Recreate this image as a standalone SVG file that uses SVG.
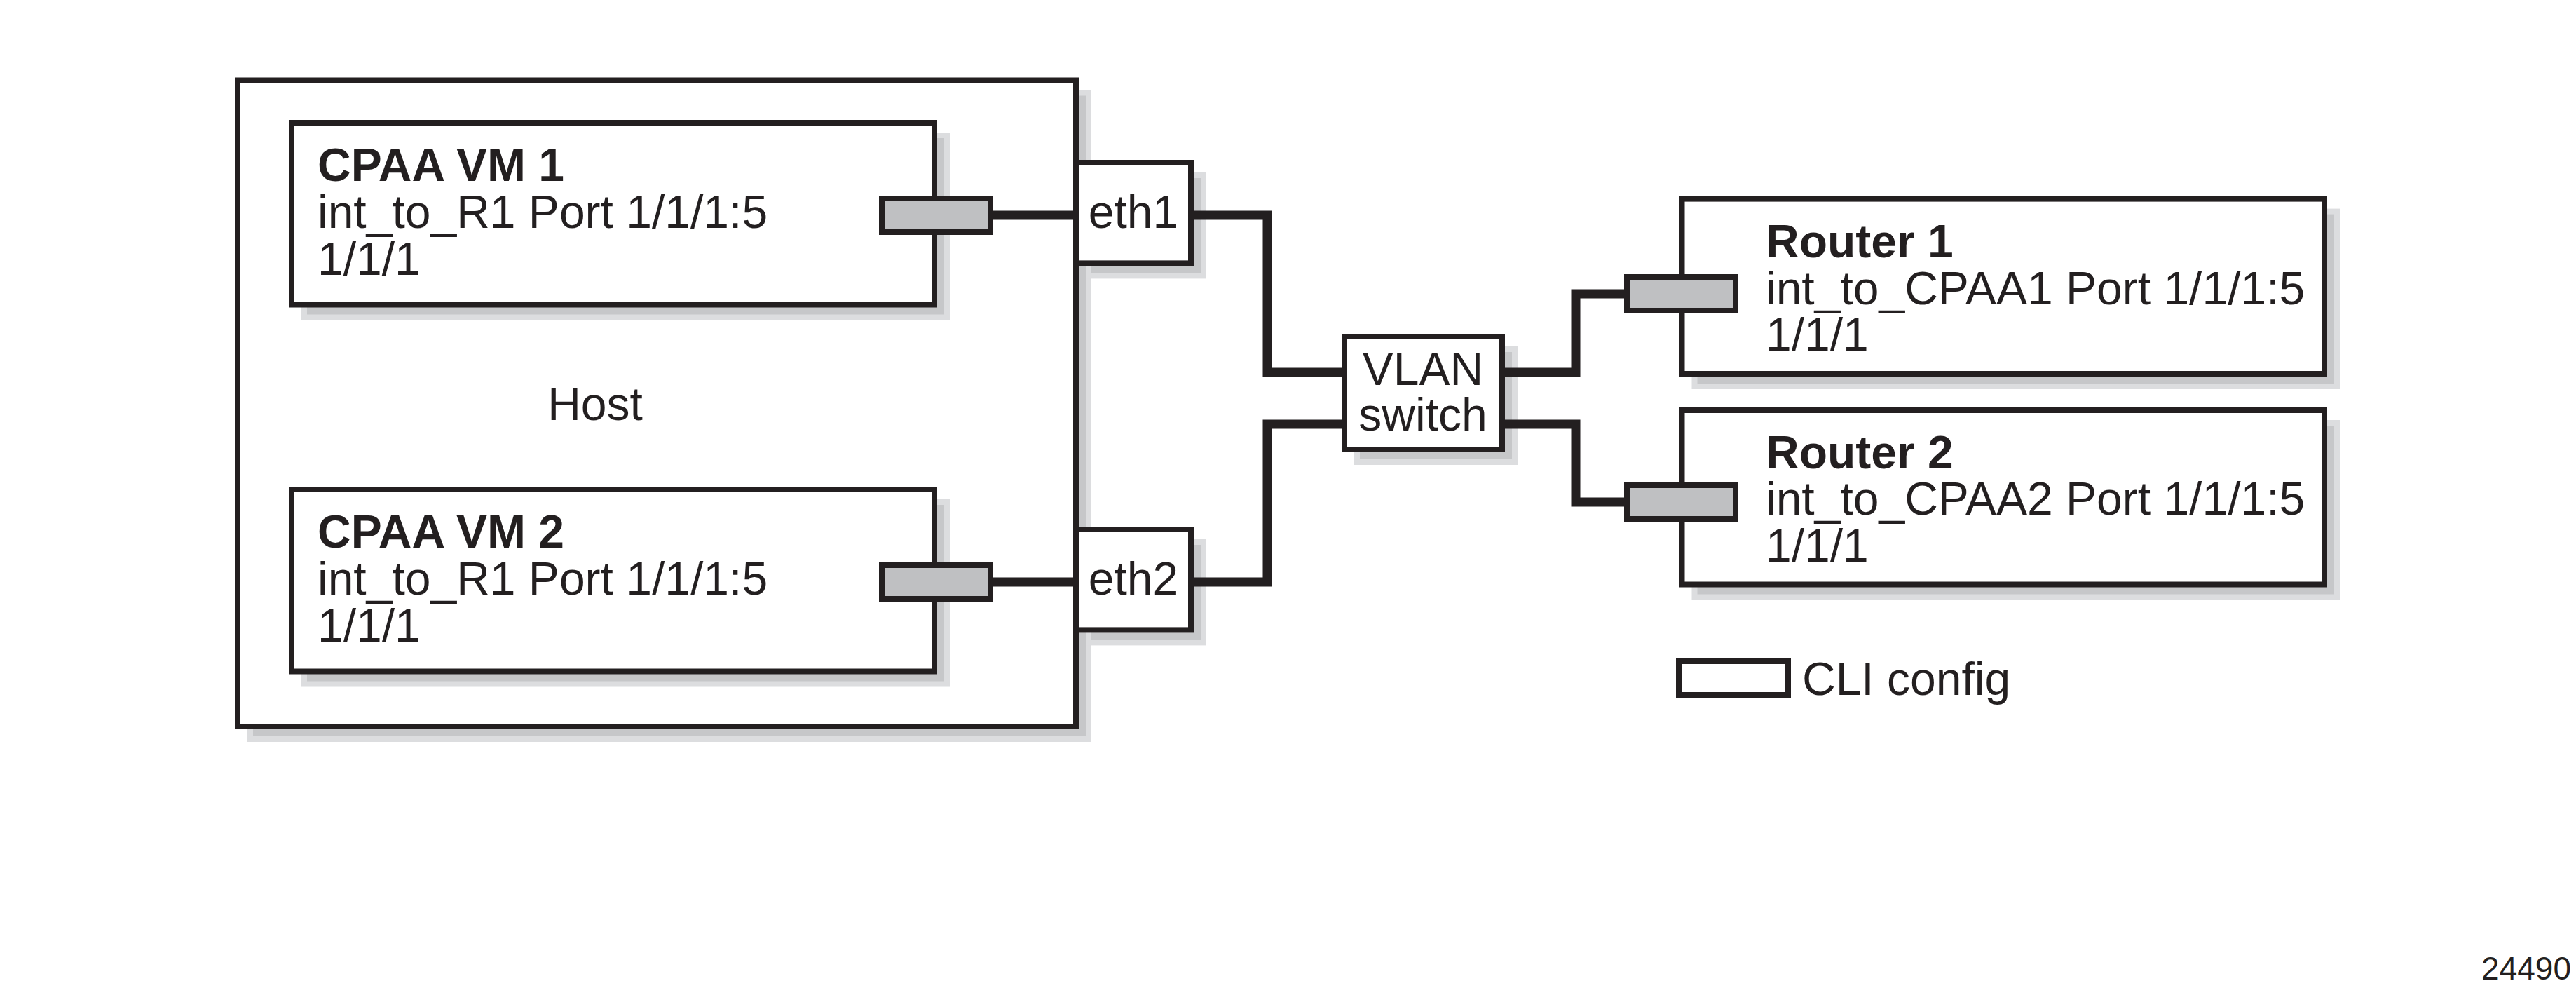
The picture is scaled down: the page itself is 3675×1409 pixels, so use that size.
<svg xmlns="http://www.w3.org/2000/svg" width="3675" height="1409" viewBox="0 0 3675 1409">
<style>
.box{fill:#ffffff;stroke:#231f20;stroke-width:8}
.sh{fill:#c6c7c9;stroke:#dcdddf;stroke-width:8}
.port{fill:#bfc0c2;stroke:#231f20;stroke-width:8}
.con{fill:none;stroke:#231f20;stroke-width:13;stroke-linejoin:miter;stroke-linecap:butt}
text{font-family:"Liberation Sans",Arial,Helvetica,sans-serif;font-size:66px;fill:#231f20}
.b{font-weight:bold}
.c{text-anchor:middle}
</style>
<rect width="3675" height="1409" fill="#ffffff"/>
<g id="host">
<rect class="sh" x="357" y="132.5" width="1196" height="921.5"/>
<rect class="box" x="339" y="114.5" width="1196" height="921.5"/>
<text class="c" x="849" y="599">Host</text>
</g>
<g id="vm1">
<rect class="sh" x="434" y="193" width="917" height="259.5"/>
<rect class="box" x="416" y="175" width="917" height="259.5"/>
<text class="b" x="453" y="258">CPAA VM 1</text>
<text x="453" y="325">int_to_R1 Port 1/1/1:5</text>
<text x="453" y="392">1/1/1</text>
</g>
<g id="vm2">
<rect class="sh" x="434" y="716" width="917" height="259.5"/>
<rect class="box" x="416" y="698" width="917" height="259.5"/>
<text class="b" x="453" y="781">CPAA VM 2</text>
<text x="453" y="848">int_to_R1 Port 1/1/1:5</text>
<text x="453" y="915">1/1/1</text>
</g>
<g id="eth1">
<rect class="sh" x="1553" y="250" width="164" height="143.4"/>
<rect class="box" x="1535" y="232" width="164" height="143.4"/>
<text class="c" x="1617" y="325">eth1</text>
</g>
<g id="eth2">
<rect class="sh" x="1553" y="773" width="164" height="143.4"/>
<rect class="box" x="1535" y="755" width="164" height="143.4"/>
<text class="c" x="1617" y="848">eth2</text>
</g>
<g id="vlan-switch">
<rect class="sh" x="1936" y="498" width="225" height="161"/>
<rect class="box" x="1918" y="480" width="225" height="161"/>
<text class="c" x="2030" y="549">VLAN</text>
<text class="c" x="2030" y="614">switch</text>
</g>
<g id="router1">
<rect class="sh" x="2417.5" y="301.6" width="916.5" height="249.4"/>
<rect class="box" x="2399.5" y="283.6" width="916.5" height="249.4"/>
<text class="b" x="2519" y="367">Router 1</text>
<text x="2519" y="434">int_to_CPAA1 Port 1/1/1:5</text>
<text x="2519" y="500">1/1/1</text>
</g>
<g id="router2">
<rect class="sh" x="2417.5" y="603" width="916.5" height="248.5"/>
<rect class="box" x="2399.5" y="585" width="916.5" height="248.5"/>
<text class="b" x="2519" y="668">Router 2</text>
<text x="2519" y="734">int_to_CPAA2 Port 1/1/1:5</text>
<text x="2519" y="801">1/1/1</text>
</g>
<g id="connectors">
<path class="con" d="M1413,307 H1535"/>
<path class="con" d="M1699,307 H1808 V531 H1918"/>
<path class="con" d="M1413,830 H1535"/>
<path class="con" d="M1699,830 H1808 V605 H1918"/>
<path class="con" d="M2143,531 H2248 V419 H2321"/>
<path class="con" d="M2143,605 H2248 V716 H2321"/>
</g>
<g id="ports">
<rect id="port-vm1" class="port" x="1258" y="283" width="155" height="48"/>
<rect id="port-vm2" class="port" x="1258" y="806" width="155" height="48"/>
<rect id="port-r1" class="port" x="2321" y="395" width="155" height="48"/>
<rect id="port-r2" class="port" x="2321" y="692" width="155" height="48"/>
</g>
<g id="legend">
<rect class="box" x="2395" y="943" width="156" height="48"/>
<text x="2571" y="991">CLI config</text>
</g>
<text x="3668" y="1397" style="font-size:46px;text-anchor:end">24490</text>
</svg>
